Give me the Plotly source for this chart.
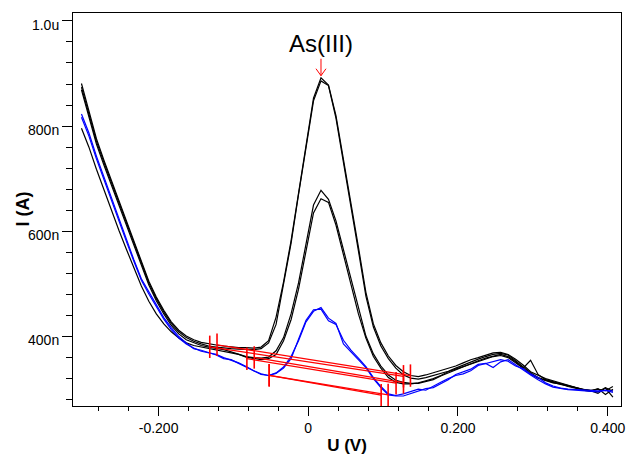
import plotly.graph_objects as go

# ---------------- data (potential in V, current in nA) ----------------
U_V = [-0.303, -0.293, -0.283, -0.273, -0.263, -0.253, -0.243, -0.233, -0.223, -0.213,
       -0.203, -0.193, -0.183, -0.173, -0.163, -0.153, -0.143, -0.133, -0.123, -0.113,
       -0.103, -0.093, -0.083, -0.073, -0.063, -0.053, -0.043, -0.033, -0.023, -0.013,
       -0.003, 0.007, 0.017, 0.027, 0.037, 0.047, 0.057, 0.067, 0.077, 0.087,
       0.097, 0.107, 0.117, 0.127, 0.137, 0.147, 0.157, 0.167, 0.177, 0.187,
       0.197, 0.207, 0.217, 0.227, 0.237, 0.247, 0.257, 0.267, 0.277, 0.287,
       0.297, 0.307, 0.317, 0.327, 0.337, 0.347, 0.357, 0.367, 0.377, 0.387,
       0.397, 0.407]

scan_high_1 = [881, 828, 776, 735, 697, 660, 622, 585, 545, 505,
               475, 450, 428, 412, 401, 394, 389, 386, 384, 382,
               380, 379, 379, 378, 380, 392, 437, 504, 582, 675,
               768, 853, 892, 878, 820, 739, 655, 570, 484, 424,
               388, 363, 345, 333, 326, 324, 327, 331, 335, 339,
               344, 350, 356, 360, 365, 369, 370, 366, 357, 346,
               333, 326, 320, 316, 312, 308, 303, 299, 298, 300,
               297, 305]
scan_high_2 = [874, 822, 771, 731, 693, 656, 619, 582, 542, 502,
               472, 447, 425, 409, 398, 391, 386, 382, 380, 378,
               377, 376, 375, 375, 377, 388, 423, 498, 577, 670,
               763, 848, 886, 877, 815, 733, 649, 563, 477, 418,
               382, 358, 340, 327, 321, 319, 322, 326, 331, 334,
               340, 346, 351, 357, 362, 366, 368, 365, 354, 343,
               331, 322, 317, 313, 309, 306, 302, 300, 297, 295,
               303, 296]
scan_mid_1 = [869, 817, 766, 726, 688, 651, 614, 577, 537, 498,
              468, 443, 421, 405, 394, 388, 383, 380, 378, 375,
              371, 367, 362, 360, 359, 361, 373, 398, 443, 502,
              573, 650, 678, 661, 620, 565, 508, 451, 401, 367,
              344, 327, 317, 313, 311, 311, 314, 318, 325, 331,
              336, 342, 349, 354, 359, 363, 366, 362, 352, 340,
              329, 321, 316, 312, 310, 305, 302, 298, 296, 301,
              290, 300]
scan_mid_2 = [796, 760, 718, 678, 639, 602, 566, 530, 496, 467,
              443, 424, 409, 397, 388, 383, 380, 378, 375, 372,
              369, 366, 361, 358, 356, 358, 366, 392, 432, 490,
              560, 635, 662, 655, 612, 556, 498, 443, 397, 362,
              340, 322, 313, 310, 310, 312, 316, 320, 326, 333,
              338, 343, 348, 352, 358, 362, 364, 360, 350, 340,
              355, 328, 318, 314, 311, 307, 302, 299, 297, 292,
              302, 285]
scan_sample_1 = [823, 787, 743, 703, 664, 624, 585, 546, 510, 485,
                 460, 436, 417, 400, 388, 377, 374, 370, 365, 358,
                 356, 349, 342, 334, 328, 326, 330, 340, 358, 395,
                 431, 451, 452, 430, 423, 393, 374, 359, 343, 322,
                 305, 291, 288, 291, 296, 300, 298, 306, 313, 320,
                 326, 329, 335, 345, 349, 352, 356, 353, 344, 339,
                 329, 322, 312, 306, 302, 300, 299, 298, 297, 297,
                 297, 297]
scan_sample_2 = [817, 781, 738, 698, 660, 620, 581, 543, 507, 481,
                 456, 433, 413, 397, 386, 378, 372, 369, 366, 360,
                 355, 350, 343, 335, 329, 326, 331, 342, 362, 392,
                 428, 448, 455, 435, 425, 386, 371, 357, 341, 320,
                 303, 289, 287, 287, 292, 297, 301, 303, 310, 318,
                 328, 333, 338, 347, 349, 341, 352, 356, 346, 336,
                 327, 318, 310, 304, 301, 299, 298, 297, 296, 295,
                 298, 294]

# baselines: start / end potential (V) and current (nA)
base_x0 = [-0.1316, -0.1219, -0.0820, -0.0722, -0.0522, -0.0522]
base_y0 = [380.5, 384.3, 357.9, 360.3, 326.4, 326.4]
base_x1 = [0.1272, 0.1365, 0.1173, 0.1272, 0.0974, 0.1067]
base_y1 = [324.5, 325.8, 311.3, 312.6, 288.6, 289.1]

x_tick_vals = [-0.2, 0.0, 0.2, 0.4]
x_tick_text = ["-0.200", "0", "0.200", "0.400"]
x_minor_vals = [-0.28, -0.24, -0.16, -0.12, -0.08, -0.04, 0.04, 0.08, 0.12, 0.16,
                0.24, 0.28, 0.32, 0.36]
y_tick_vals = [400, 600, 800, 1000]
y_tick_text = ["400n", "600n", "800n", "1.0u"]
y_minor_vals = [280, 320, 360, 440, 480, 520, 560, 640, 680, 720, 760, 840, 880, 920, 960]

peak_label = "As(III)"
x_title = "U (V)"
y_title = "I (A)"

# ---------------- figure ----------------
FONT = "Liberation Sans, Arial, sans-serif"
fig = go.Figure()

black_scans = [scan_high_1, scan_high_2, scan_mid_1, scan_mid_2]
blue_scans = [scan_sample_1, scan_sample_2]
for s in black_scans:
    fig.add_trace(go.Scatter(x=U_V, y=s, mode="lines",
                             line=dict(color="#000000", width=1.2),
                             showlegend=False, hoverinfo="skip"))
for s in blue_scans:
    fig.add_trace(go.Scatter(x=U_V, y=s, mode="lines",
                             line=dict(color="#0000ff", width=1.2),
                             showlegend=False, hoverinfo="skip"))

for x0, y0, x1, y1 in zip(base_x0, base_y0, base_x1, base_y1):
    fig.add_trace(go.Scatter(x=[x0, x1], y=[y0, y1], mode="lines+markers",
                             line=dict(color="#ff0000", width=1.3),
                             marker=dict(symbol="line-ns", size=16, color="#ff0000",
                                         line=dict(color="#ff0000", width=1.6)),
                             showlegend=False, hoverinfo="skip"))

# peak marker
ipk = scan_high_1.index(max(scan_high_1))
xpk, ypk = U_V[ipk], scan_high_1[ipk]
fig.add_annotation(x=xpk, y=ypk, text=peak_label, showarrow=True, arrowhead=0,
                   arrowcolor="#ff0000", arrowwidth=1, ax=0, ay=-34, standoff=2,
                   font=dict(family=FONT, size=24, color="#000000"))
fig.add_shape(type="path", xref="x", yref="y", xsizemode="pixel", ysizemode="pixel",
              xanchor=xpk, yanchor=ypk, path="M -5,9 L 0,2 L 5,9",
              line=dict(color="#ff0000", width=1))

# y-axis title (placed beside the tick labels)
fig.add_annotation(xref="paper", yref="paper", x=0, y=0.5, xshift=-51,
                   xanchor="center", yanchor="middle",
                   text="<b>" + y_title + "</b>", textangle=-90, showarrow=False,
                   font=dict(family=FONT, size=18, color="#000000"))

fig.update_layout(
    width=630, height=457,
    margin=dict(l=73, r=5, t=13, b=48),
    paper_bgcolor="white", plot_bgcolor="white",
    font=dict(family=FONT, size=14, color="#000000"),
    showlegend=False,
)
fig.update_xaxes(
    range=[-0.3143, 0.4178], showgrid=False, zeroline=False,
    showline=True, linecolor="black", linewidth=1, mirror=True,
    tickmode="array", tickvals=x_tick_vals, ticktext=x_tick_text,
    ticks="outside", ticklen=9, tickwidth=1, tickcolor="black",
    tickfont=dict(family=FONT, size=14),
    minor=dict(tickmode="array", tickvals=x_minor_vals, ticks="outside",
               ticklen=4, tickwidth=1, tickcolor="black", showgrid=False),
    title=dict(text="<b>" + x_title + "</b>", font=dict(family=FONT, size=17), standoff=4),
)
fig.update_yaxes(
    range=[268, 1015], showgrid=False, zeroline=False,
    showline=True, linecolor="black", linewidth=1, mirror=True,
    tickmode="array", tickvals=y_tick_vals, ticktext=y_tick_text,
    ticks="outside", ticklen=10, tickwidth=1, tickcolor="black",
    tickfont=dict(family=FONT, size=14), ticklabelshift=4,
    minor=dict(tickmode="array", tickvals=y_minor_vals, ticks="outside",
               ticklen=6, tickwidth=1, tickcolor="black", showgrid=False),
)

fig.write_html("out.html", config={"displayModeBar": False},
               post_script="document.body.style.margin='0';")
